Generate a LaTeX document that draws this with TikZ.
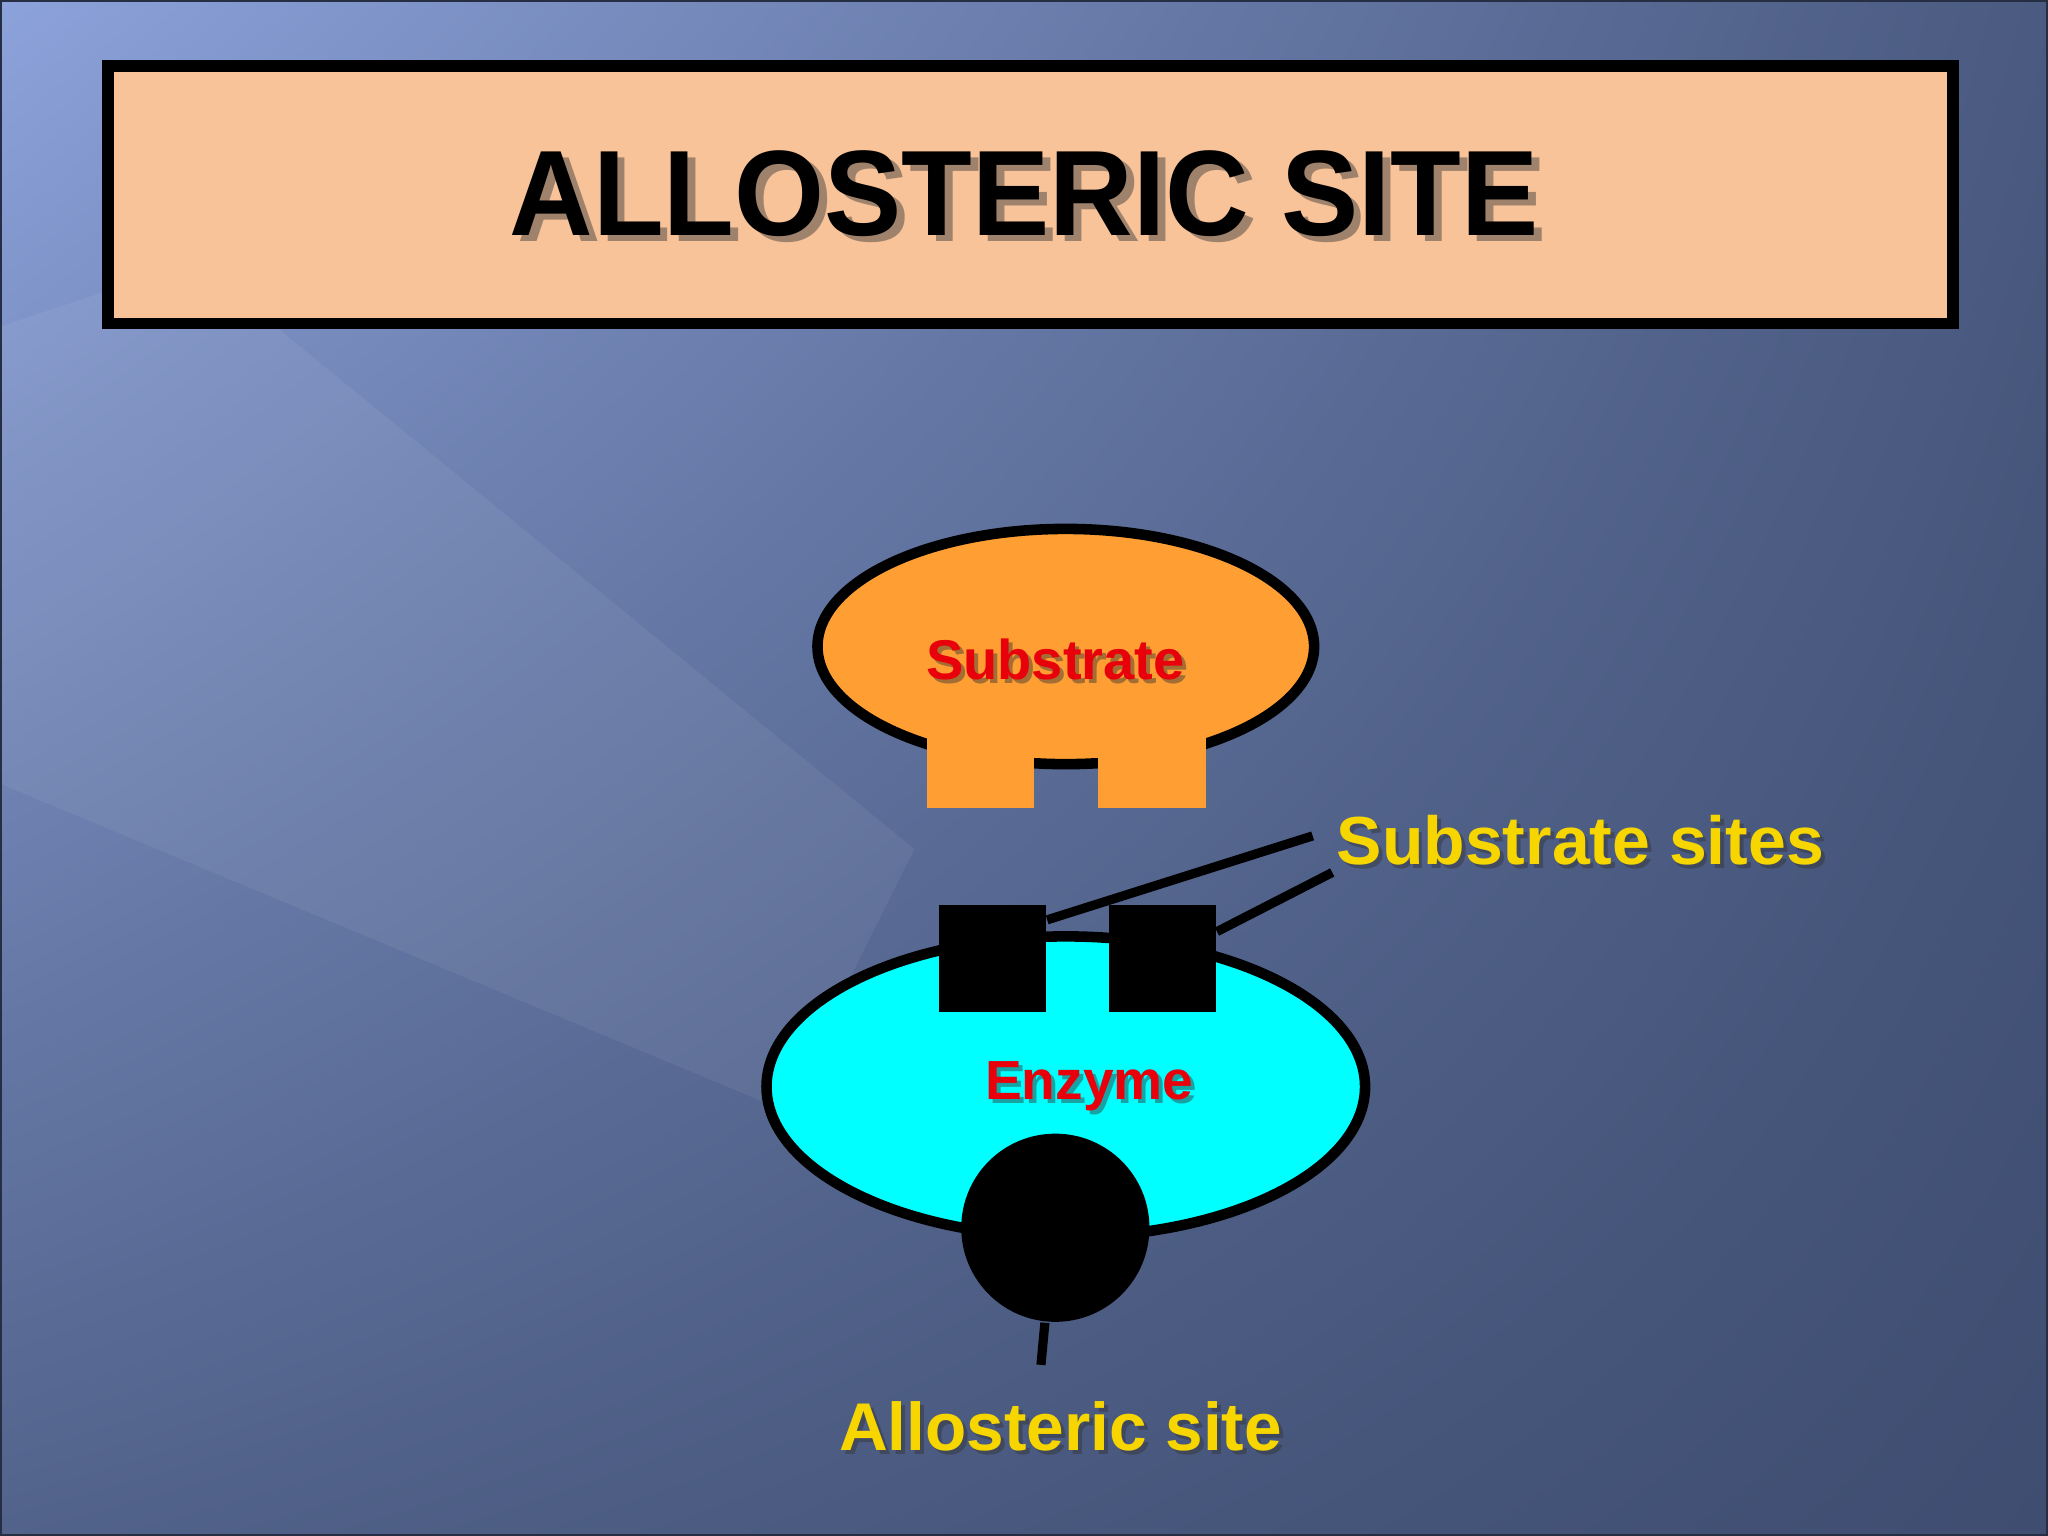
\documentclass[tikz,border=0pt]{standalone}
\usepackage{fontspec}
\setmainfont{Liberation Sans}
\usetikzlibrary{shapes.geometric,shadings}
\definecolor{bgA}{HTML}{8CA2DA}
\definecolor{bgB}{HTML}{3E4D70}
\definecolor{titlefill}{HTML}{F9C399}
\definecolor{subfill}{HTML}{FF9F33}
\definecolor{lblyellow}{HTML}{F7D600}
\definecolor{lblred}{HTML}{E8000A}
\definecolor{enzfill}{HTML}{00FFFF}
\tikzset{
  lbl/.style={font=\bfseries, inner sep=0pt},
  shadowtxt/.style={lbl, text=black!80, opacity=0.45},
  conn/.style={draw=black, line width=2pt},
}
\newcommand{\shadowtext}[6]{% name, x, y, size, color, text
  \node[shadowtxt, font=\fontsize{#4}{#4}\selectfont\bfseries] at (#2+3,#3+3) {#6};
  \node[lbl, text=#5, font=\fontsize{#4}{#4}\selectfont\bfseries] (#1) at (#2,#3) {#6};}
\begin{document}
\begin{tikzpicture}[x=0.01cm,y=-0.01cm]
\useasboundingbox (0,0) rectangle (1568,1176);
\shade[upper left=bgA, upper right=bgB!85!bgA, lower left=bgB!75!bgA, lower right=bgB] (0,0) rectangle (1568,1176);
\fill[white, opacity=0.06] (0,250) -- (150,200) -- (700,650) -- (600,850) -- (0,600) -- cycle;
\draw[bgB!60!black, line width=1pt] (0,0) rectangle (1568,1176);
% title
\node[draw=black, line width=2.6pt, fill=titlefill, minimum width=14.12cm, minimum height=1.97cm, anchor=north west, inner sep=0pt] (title) at (78,46) {};
\node[shadowtxt, font=\fontsize{25.2}{25.2}\selectfont\bfseries] at (790,153) {\scalebox{1}[1.05]{ALLOSTERIC SITE}};
\node[lbl, font=\fontsize{25.2}{25.2}\selectfont\bfseries] (ttext) at (784,148) {\scalebox{1}[1.05]{ALLOSTERIC SITE}};
% substrate
\node[ellipse, draw=black, line width=2.3pt, fill=subfill, minimum width=3.8cm, minimum height=1.8cm, inner sep=0pt] (sub) at (816,495) {};
\fill[subfill] (710,565) rectangle (792,619);
\fill[subfill] (841,565) rectangle (923,619);
\fill[subfill] (792,565) rectangle (841,580);
\shadowtext{subt}{808}{505}{12.2}{lblred}{Substrate}
% enzyme
\node[ellipse, draw=black, line width=2.3pt, fill=enzfill, minimum width=4.58cm, minimum height=2.3cm, inner sep=0pt] (enz) at (816,832) {};
\node[fill=black, minimum size=0.82cm, inner sep=0pt] (s1) at (760,734) {};
\node[fill=black, minimum size=0.82cm, inner sep=0pt] (s2) at (890,734) {};
\node[circle, fill=black, minimum size=1.44cm, inner sep=0pt] (allo) at (808,940) {};
\shadowtext{enzt}{834}{832}{12}{lblred}{Enzyme}
% labels
\shadowtext{sslabel}{1210}{643}{14.8}{lblyellow}{Substrate sites}
\coordinate (c1) at (1005,640);
\coordinate (c2) at (1020,668);
\draw[conn] (s1.north east) ++(0,12) -- (c1);
\draw[conn] (s2.north east) ++(0,21) -- (c2);
\coordinate (c3) at (797,1045);
\draw[conn] (allo.south) ++(-8,0) -- (c3);
\shadowtext{allolabel}{812}{1092}{14.7}{lblyellow}{Allosteric site}
\end{tikzpicture}
\end{document}
